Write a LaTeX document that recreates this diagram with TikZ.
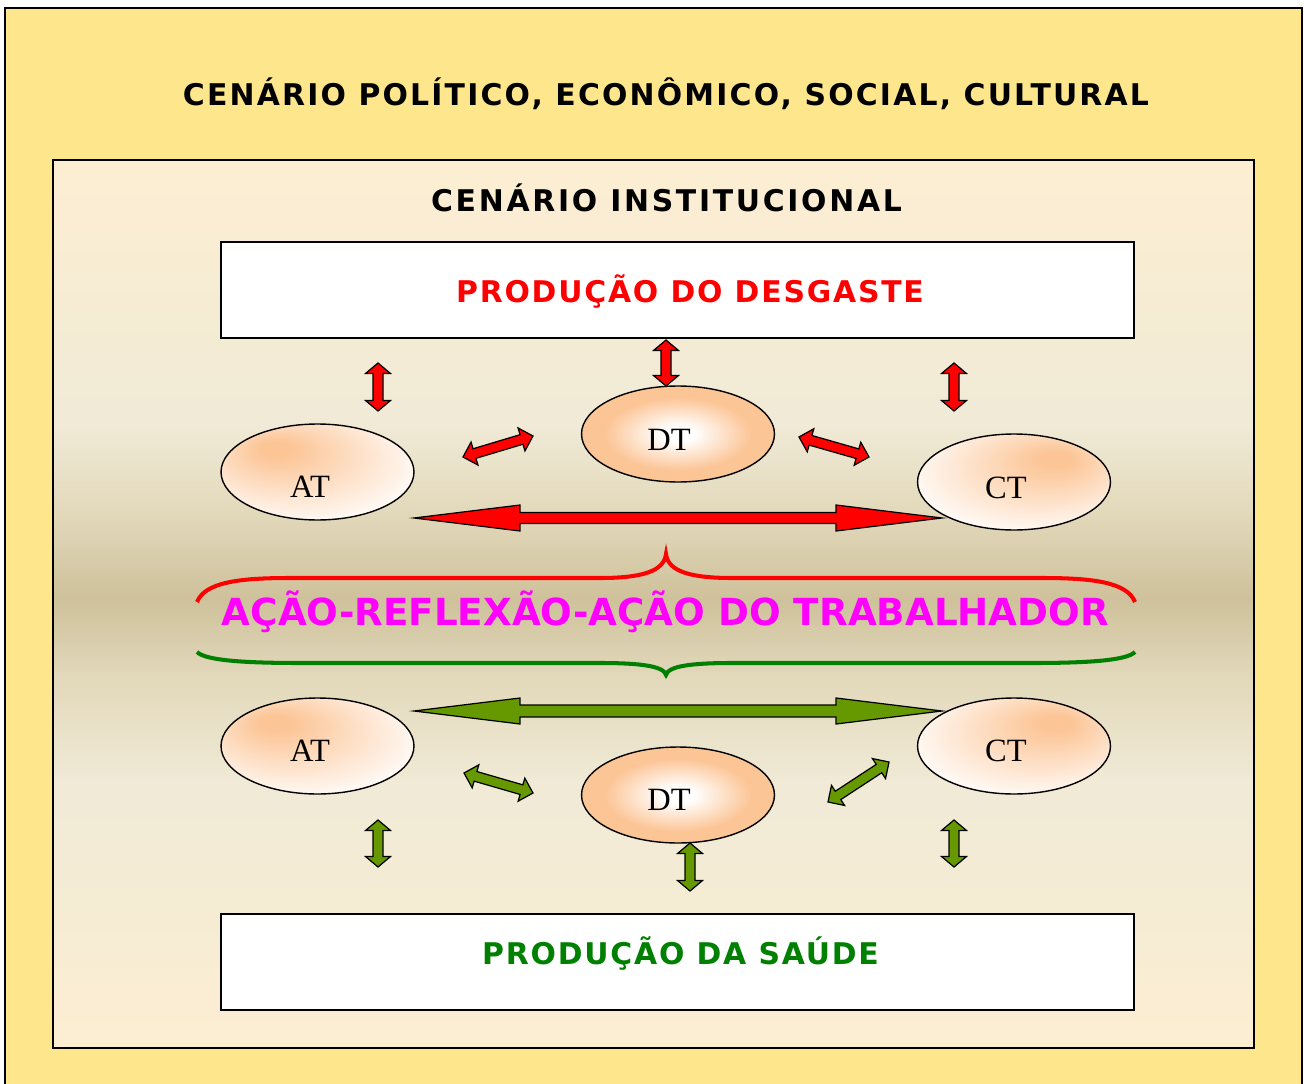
\documentclass[tikz,border=0pt]{standalone}
\usepackage{fontspec}
\usetikzlibrary{shapes.geometric,calc}
\newfontfamily\titlef{DejaVu Sans}[LetterSpace=7.3]
\newfontfamily\titleg{DejaVu Sans}[LetterSpace=9]
\newfontfamily\boxf{DejaVu Sans}[LetterSpace=6]
\newfontfamily\magf{DejaVu Sans}
\newfontfamily\serf{Liberation Serif}
\definecolor{outery}{RGB}{253,230,140}
\definecolor{cA}{RGB}{253,238,210}
\definecolor{cB}{RGB}{246,236,212}
\definecolor{cC}{RGB}{240,234,214}
\definecolor{cD}{RGB}{226,216,186}
\definecolor{cE}{RGB}{206,193,155}
\definecolor{peach}{RGB}{252,197,150}
\definecolor{arrgreen}{RGB}{102,153,0}
\definecolor{txtgreen}{RGB}{0,128,0}
\definecolor{bracegreen}{RGB}{0,128,0}
\definecolor{magtext}{RGB}{255,0,255}
\definecolor{redtext}{RGB}{255,0,0}
\pgfdeclareverticalshading{innerbg}{100bp}{color(0bp)=(cA); color(25bp)=(cA); color(32bp)=(cB); color(40bp)=(cC); color(46bp)=(cD); color(50.3bp)=(cE); color(55bp)=(cD); color(60bp)=(cC); color(67bp)=(cB); color(75bp)=(cA); color(100bp)=(cA)}
\pgfdeclareradialshading{atshade}{\pgfpoint{-12bp}{13bp}}{color(0bp)=(peach); color(4bp)=(peach); color(34bp)=(white); color(50bp)=(white)}
\pgfdeclareradialshading{ctshade}{\pgfpoint{12bp}{13bp}}{color(0bp)=(peach); color(4bp)=(peach); color(34bp)=(white); color(50bp)=(white)}
\pgfdeclareradialshading{dtshade}{\pgfpoint{0bp}{0bp}}{color(0bp)=(white); color(4bp)=(white); color(19bp)=(peach); color(50bp)=(peach)}
\newcommand\fatarrow[6]{%
  \path ($(#1)!#5!(#2)$) coordinate (fa1) ($(#2)!#5!(#1)$) coordinate (fa2);
  \draw[#6] (#1) -- ($(fa1)!#4!90:(#2)$) -- ($(fa1)!#3!90:(#2)$) -- ($(fa2)!#3!-90:(#1)$) -- ($(fa2)!#4!-90:(#1)$) -- (#2) -- ($(fa2)!#4!90:(#1)$) -- ($(fa2)!#3!90:(#1)$) -- ($(fa1)!#3!-90:(#2)$) -- ($(fa1)!#4!-90:(#2)$) -- cycle;
}
\tikzset{
  titletxt/.style={anchor=base, inner sep=0pt, font=\titlef\bfseries\fontsize{17pt}{20pt}\selectfont},
  titletxtb/.style={anchor=base, inner sep=0pt, font=\titleg\bfseries\fontsize{17pt}{20pt}\selectfont},
  boxtxt/.style={anchor=base, inner sep=0pt, font=\boxf\bfseries\fontsize{17pt}{20pt}\selectfont},
  magtxt/.style={anchor=base, inner sep=0pt, text=magtext, font=\magf\bfseries\fontsize{21.2pt}{24pt}\selectfont},
  lab/.style={anchor=base, inner sep=0pt, font=\serf\fontsize{18.5pt}{21pt}\selectfont},
  whitebox/.style={draw=black, fill=white, line width=1pt, minimum width=18.26cm, minimum height=1.92cm, inner sep=0pt},
  oval/.style={ellipse, draw=black, line width=0.8pt, minimum width=3.86cm, minimum height=1.92cm, inner sep=0pt},
  redarr/.style={fill=red, draw=black, line width=0.7pt, line join=miter},
  grnarr/.style={fill=arrgreen, draw=black, line width=0.7pt, line join=miter},
}
\begin{document}
\begin{tikzpicture}[x=0.02cm,y=-0.02cm]
\useasboundingbox (0,0) rectangle (1304,1084);
\fill[white] (0,0) rectangle (1304,1084);
% frames
\draw[fill=outery, line width=1pt] (5,8) rectangle (1302,1100);
\shade[shading=innerbg] (53,160) rectangle (1254,1048);
\draw[line width=1pt] (53,160) rectangle (1254,1048);
% titles
\node[titletxt] (t1) at (666,106) {CENÁRIO POLÍTICO, ECONÔMICO, SOCIAL, CULTURAL};
\node[titletxtb] (t2) at (666.5,212) {CENÁRIO INSTITUCIONAL};
% boxes
\node[whitebox] (desg) at (677.5,290) {};
\node[boxtxt, text=redtext] (desgt) at (690,303) {PRODUÇÃO DO DESGASTE};
\node[whitebox] (saude) at (677.5,962) {};
\node[boxtxt, text=txtgreen] (saudet) at (680.5,964) {PRODUÇÃO DA SAÚDE};
% ellipses top
\node[oval, shading=atshade] (at1) at (317.5,472) {};
\node[oval, shading=dtshade] (dt1) at (678,434) {};
\node[oval, shading=ctshade] (ct1) at (1014,482) {};
\node[lab] at (310,497) {AT};
\node[lab] at (669,450) {DT};
\node[lab] at (1006,498) {CT};
% ellipses bottom
\node[oval, shading=atshade] (at2) at (317.5,746) {};
\node[oval, shading=dtshade] (dt2) at (678,795) {};
\node[oval, shading=ctshade] (ct2) at (1014,746) {};
\node[lab] at (310,761) {AT};
\node[lab] at (669,810) {DT};
\node[lab] at (1006,761) {CT};
% arrow end points
\coordinate (ra1) at (378,363); \coordinate (ra2) at (378,411);
\coordinate (rd1) at (666,340); \coordinate (rd2) at (666,386);
\coordinate (rc1) at (954,363); \coordinate (rc2) at (954,411);
\coordinate (rl1) at (463,457); \coordinate (rl2) at (533,436);
\coordinate (rr1) at (799,437); \coordinate (rr2) at (869,457);
\coordinate (rh1) at (414,518); \coordinate (rh2) at (942,518);
\coordinate (gh1) at (414,711); \coordinate (gh2) at (942,711);
\coordinate (gl1) at (464,773); \coordinate (gl2) at (533,793);
\coordinate (gr1) at (828,802); \coordinate (gr2) at (889,762);
\coordinate (ga1) at (378,820); \coordinate (ga2) at (378,867);
\coordinate (gd1) at (690,843); \coordinate (gd2) at (690,891);
\coordinate (gc1) at (954,820); \coordinate (gc2) at (954,867);
% red arrows
\fatarrow{ra1}{ra2}{0.1cm}{0.25cm}{0.21cm}{redarr}
\fatarrow{rd1}{rd2}{0.1cm}{0.25cm}{0.21cm}{redarr}
\fatarrow{rc1}{rc2}{0.1cm}{0.25cm}{0.21cm}{redarr}
\fatarrow{rl1}{rl2}{0.1cm}{0.24cm}{0.24cm}{redarr}
\fatarrow{rr1}{rr2}{0.1cm}{0.24cm}{0.24cm}{redarr}
\fatarrow{rh1}{rh2}{0.11cm}{0.26cm}{2.12cm}{redarr}
% green arrows
\fatarrow{gh1}{gh2}{0.12cm}{0.26cm}{2.12cm}{grnarr}
\fatarrow{gl1}{gl2}{0.1cm}{0.24cm}{0.24cm}{grnarr}
\fatarrow{gr1}{gr2}{0.1cm}{0.24cm}{0.24cm}{grnarr}
\fatarrow{ga1}{ga2}{0.1cm}{0.25cm}{0.21cm}{grnarr}
\fatarrow{gd1}{gd2}{0.1cm}{0.25cm}{0.21cm}{grnarr}
\fatarrow{gc1}{gc2}{0.1cm}{0.25cm}{0.21cm}{grnarr}
% braces
\draw[red, line width=2.3pt] (197,602) .. controls (205,582) and (240,578) .. (290,578) -- (600,578) .. controls (640,578) and (664,572) .. (666,554) .. controls (668,572) and (692,578) .. (732,578) -- (1042,578) .. controls (1092,578) and (1127,582) .. (1135,602);
\draw[bracegreen, line width=2.3pt] (197,652) .. controls (205,660) and (240,663) .. (300,663) -- (600,663) .. controls (640,663) and (664,666) .. (666,675) .. controls (668,666) and (692,663) .. (732,663) -- (1032,663) .. controls (1092,663) and (1127,660) .. (1135,652);
% central text
\node[magtxt] (acao) at (665.5,625) {AÇÃO-REFLEXÃO-AÇÃO DO TRABALHADOR};
\end{tikzpicture}
\end{document}
